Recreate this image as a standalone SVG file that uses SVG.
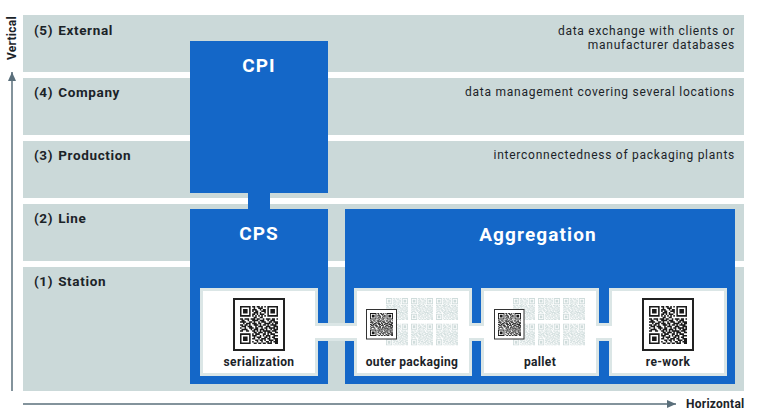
<svg xmlns="http://www.w3.org/2000/svg" xmlns:xlink="http://www.w3.org/1999/xlink" width="760" height="414" viewBox="0 0 760 414">
<style>
text{font-family:Roboto,"Liberation Sans",sans-serif;fill:#1b2328}
.band{fill:#cbd9d9}
.blue{fill:#1467c8}
.lvl{font-size:13.500px;font-weight:700;letter-spacing:.65px;word-spacing:1px}
.note{font-size:12px;text-anchor:end;letter-spacing:.74px}
.big{font-size:19px;font-weight:700;fill:#fff;text-anchor:middle;letter-spacing:1.1px}
.lbl{font-size:12px;font-weight:700;text-anchor:middle;letter-spacing:.35px}
.axis{font-size:12px;font-weight:700;letter-spacing:.25px}
.card{fill:#fff;stroke:#dbe6e6;stroke-width:3}
.frame{fill:#fff;stroke:#222;stroke-width:2}
.frame2{fill:#fff;stroke:#333;stroke-width:1}
.arrow{stroke:#5a6f7b;stroke-width:1.5;fill:none;marker-end:url(#head)}
</style>
<defs>
<marker id="head" markerUnits="userSpaceOnUse" markerWidth="9" markerHeight="8" refX="9" refY="4" orient="auto"><path d="M0 0L9 4L0 8z" fill="#5a6f7b"/></marker>
<symbol id="qr" viewBox="0 0 25 25">
<path fill="currentColor" fill-rule="evenodd" d="M0 0h7v7h-7zM1 1v5h5v-5zM2 2h3v3h-3zM18 0h7v7h-7zM19 1v5h5v-5zM20 2h3v3h-3zM0 18h7v7h-7zM1 19v5h5v-5zM2 20h3v3h-3z"/>
<path stroke="currentColor" stroke-width="1" fill="none" d="M8 .5h2M11 .5h2M14 .5h1M16 .5h1M9 1.5h1M12 1.5h3M8 2.5h3M13 2.5h1M15 2.5h2M8 3.5h1M10 3.5h2M14 3.5h3M9 4.5h3M13 4.5h1M16 4.5h1M8 5.5h2M11 5.5h1M13 5.5h3M8 6.5h1M10 6.5h1M12 6.5h1M14 6.5h1M16 6.5h1M9 7.5h2M13 7.5h2M0 8.5h2M3 8.5h3M7 8.5h3M11 8.5h2M15 8.5h1M17 8.5h3M21 8.5h2M24 8.5h1M1 9.5h2M5 9.5h1M8 9.5h4M13 9.5h3M18 9.5h1M20 9.5h3M0 10.5h4M6 10.5h2M9 10.5h1M12 10.5h1M14 10.5h3M19 10.5h2M22 10.5h3M2 11.5h1M4 11.5h3M8 11.5h3M12 11.5h2M16 11.5h4M21 11.5h1M23 11.5h2M0 12.5h2M3 12.5h2M6 12.5h1M9 12.5h3M13 12.5h1M15 12.5h2M18 12.5h1M20 12.5h4M1 13.5h3M5 13.5h3M10 13.5h1M12 13.5h3M17 13.5h3M22 13.5h3M0 14.5h1M3 14.5h1M6 14.5h3M10 14.5h2M14 14.5h1M16 14.5h2M19 14.5h4M24 14.5h1M1 15.5h4M7 15.5h1M9 15.5h3M13 15.5h3M17 15.5h1M20 15.5h1M22 15.5h3M0 16.5h2M4 16.5h2M8 16.5h2M11 16.5h1M13 16.5h1M15 16.5h5M21 16.5h3M9 17.5h2M12 17.5h3M16 17.5h1M18 17.5h3M23 17.5h2M8 18.5h1M10 18.5h3M15 18.5h2M18 18.5h1M20 18.5h3M8 19.5h3M13 19.5h1M15 19.5h1M17 19.5h3M22 19.5h3M9 20.5h1M11 20.5h3M16 20.5h2M19 20.5h1M21 20.5h2M8 21.5h2M12 21.5h1M14 21.5h3M18 21.5h2M22 21.5h3M10 22.5h2M13 22.5h2M16 22.5h1M19 22.5h3M23 22.5h2M8 23.5h1M11 23.5h1M14 23.5h1M17 23.5h2M20 23.5h1M22 23.5h3M9 24.5h2M12 24.5h2M15 24.5h2M18 24.5h3M23 24.5h2"/>
</symbol>
<g id="faint" color="#a9c0bf" opacity=".55">
<use xlink:href="#qr" x="0" y="0" width="22" height="22"/><use xlink:href="#qr" x="25" y="0" width="22" height="22"/><use xlink:href="#qr" x="50" y="0" width="22" height="22"/>
<use xlink:href="#qr" x="0" y="25.500" width="22" height="22"/><use xlink:href="#qr" x="25" y="25.500" width="22" height="22"/><use xlink:href="#qr" x="50" y="25.500" width="22" height="22"/>
</g>
</defs>
<rect width="760" height="414" fill="#fff"/>
<g id="level5"><rect class="band" x="23" y="15" width="721" height="57"/><text class="lvl" x="34" y="35">(5) External</text><text class="note" x="735" y="35">data exchange with clients or</text><text class="note" x="735" y="49">manufacturer databases</text></g>
<g id="level4"><rect class="band" x="23" y="78" width="721" height="57"/><text class="lvl" x="34" y="97">(4) Company</text><text class="note" x="735" y="96">data management covering several locations</text></g>
<g id="level3"><rect class="band" x="23" y="141" width="721" height="57"/><text class="lvl" x="34" y="160">(3) Production</text><text class="note" x="735" y="159">interconnectedness of packaging plants</text></g>
<g id="level2"><rect class="band" x="23" y="204" width="721" height="57"/><text class="lvl" x="34" y="223">(2) Line</text></g>
<g id="level1"><rect class="band" x="23" y="267" width="721" height="124"/><text class="lvl" x="34" y="286">(1) Station</text></g>
<g id="cpi"><rect class="blue" x="190" y="41" width="138" height="152"/><text class="big" x="259" y="72">CPI</text></g>
<g id="cps"><rect class="blue" x="190" y="209" width="138" height="175"/><text class="big" x="259" y="240">CPS</text></g>
<g id="aggregation"><rect class="blue" x="345" y="209" width="390" height="175"/><text class="big" x="538" y="241">Aggregation</text></g>
<g id="connectors">
<rect class="blue" x="248" y="193" width="22" height="16"/>
<rect x="316" y="323" width="39" height="18" fill="#dbe6e6"/><rect x="316" y="326" width="39" height="12" fill="#fff"/>
<rect x="470" y="323" width="12" height="18" fill="#dbe6e6"/><rect x="470" y="326" width="12" height="12" fill="#fff"/>
<rect x="597" y="323" width="13" height="18" fill="#dbe6e6"/><rect x="597" y="326" width="13" height="12" fill="#fff"/>
<path class="arrow" d="M12 391V72"/>
<path class="arrow" d="M23 404H676"/>
</g>
<g id="serialization"><rect class="card" x="201.500" y="289.500" width="115" height="85"/><rect x="315" y="326" width="4" height="12" fill="#fff"/><rect class="frame" x="234" y="299" width="50" height="51"/><use xlink:href="#qr" x="240" y="306" width="38" height="38" color="#1a1a1a"/><text class="lbl" x="259" y="366">serialization</text></g>
<g id="outer-packaging"><rect class="card" x="355.500" y="289.500" width="115" height="85"/><rect x="353" y="326" width="4" height="12" fill="#fff"/><rect x="469" y="326" width="4" height="12" fill="#fff"/><use xlink:href="#faint" x="386" y="298"/><rect class="frame2" x="366.500" y="309.500" width="30" height="29.500"/><use xlink:href="#qr" x="370" y="313" width="23" height="23" color="#1a1a1a"/><text class="lbl" x="412" y="366">outer packaging</text></g>
<g id="pallet"><rect class="card" x="482.500" y="289.500" width="115" height="85"/><rect x="480" y="326" width="4" height="12" fill="#fff"/><rect x="596" y="326" width="4" height="12" fill="#fff"/><use xlink:href="#faint" x="513" y="298"/><rect class="frame2" x="494.500" y="309.500" width="29.500" height="29.500"/><use xlink:href="#qr" x="498" y="313" width="23" height="23" color="#1a1a1a"/><text class="lbl" x="540" y="366">pallet</text></g>
<g id="re-work"><rect class="card" x="610.500" y="289.500" width="115" height="85"/><rect x="608" y="326" width="4" height="12" fill="#fff"/><rect class="frame" x="643" y="299" width="50" height="51"/><use xlink:href="#qr" x="649" y="306" width="38" height="38" color="#1a1a1a"/><text class="lbl" x="668" y="366">re-work</text></g>
<text class="axis" x="686" y="408">Horizontal</text>
<text class="axis" transform="translate(16 60) rotate(-90)">Vertical</text>
</svg>
